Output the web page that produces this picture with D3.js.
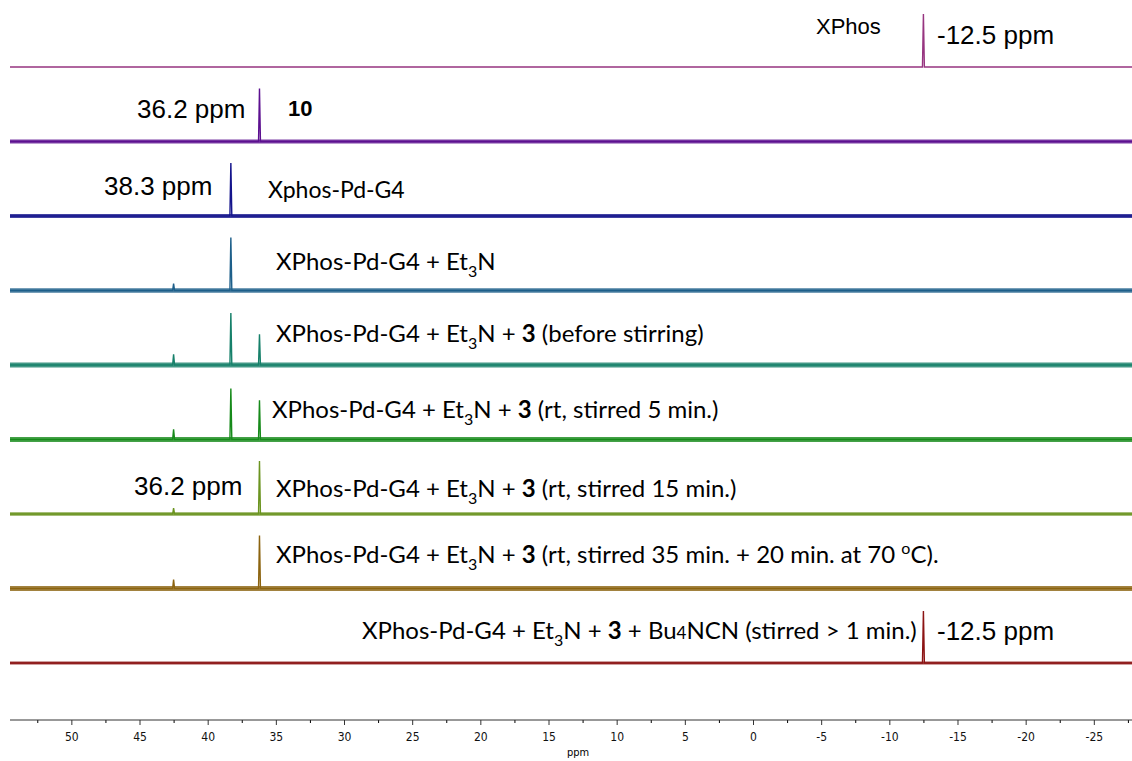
<!DOCTYPE html>
<html>
<head>
<meta charset="utf-8">
<script src="https://cdn.jsdelivr.net/npm/d3@7"></script>
<style>
  body { margin: 0; background: #fff; }
  .lbl { font-family: "Liberation Sans", Arial, sans-serif; font-size: 26px; fill: #000; }
  .cal { font-family: Lato, "Open Sans", sans-serif; font-size: 24px; fill: #000; }
  .axis text { font-family: "DejaVu Sans Condensed", "DejaVu Sans", sans-serif; font-size: 12px; }
</style>
</head>
<body>
<div id="chart"></div>
<script>
// spectra, top to bottom
const spectra = ['xphos', 'p10', 'g4', 'et3n', 'before', 'rt5', 'rt15', 'rt35', 'bu4ncn'];
const colors = ['#973580', '#5c1090', '#14148c', '#1d5f8a', '#16806a', '#168a1a', '#6b9420', '#8c6410', '#8c1414'];
// apparent noise band thickness (px), 0 = clean trace
const noiseBand = [0, 4, 4, 4.5, 5, 5, 3.5, 5, 3];

// peaks per spectrum: [ppm, relative intensity]
const peaks = [
  [[-12.5, 1.0]],
  [[36.2, 1.0]],
  [[38.3, 1.0]],
  [[38.3, 1.0], [42.5, 0.13]],
  [[38.3, 0.98], [36.2, 0.58], [42.5, 0.2]],
  [[38.3, 0.96], [36.2, 0.74], [42.5, 0.19]],
  [[36.2, 1.0], [42.5, 0.11]],
  [[36.2, 1.0], [42.5, 0.17]],
  [[-12.5, 0.98]]
];

const ppmDomain = [54.5, -27.8];
const majorTicks = [50, 45, 40, 35, 30, 25, 20, 15, 10, 5, 0, -5, -10, -15, -20, -25];
const minorTicks = [52.5, 47.5, 42.5, 37.5, 32.5, 27.5, 22.5, 17.5, 12.5, 7.5, 2.5, -2.5, -7.5, -12.5, -17.5, -22.5, -27.5];

const width = 1132, height = 761;
const svg = d3.select('#chart').append('svg').attr('width', width).attr('height', height);

const x = d3.scaleLinear().domain(ppmDomain).range([10, 1132]);
const row = d3.scalePoint().domain(spectra).range([67, 663]);
const peakH = 53;

// build a trace: flat baseline with narrow peaks
function trace(pk){
  const w = 0.07;
  let pts = [[ppmDomain[0], 0]];
  pk.slice().sort((a, b) => b[0] - a[0]).forEach(p => {
    pts.push([p[0] + w, 0], [p[0], p[1]], [p[0] - w, 0]);
  });
  pts.push([ppmDomain[1], 0]);
  return pts;
}

const g = svg.append('g').attr('class', 'spectra');
spectra.forEach((s, i) => {
  const y0 = row(s);
  const line = d3.line()
    .x(d => x(d[0]))
    .y(d => y0 - d[1] * peakH);
  // noise band under noisy spectra
  if(noiseBand[i] > 0){
    g.append('line')
      .attr('x1', x(ppmDomain[0])).attr('x2', x(ppmDomain[1]))
      .attr('y1', y0).attr('y2', y0)
      .attr('stroke', colors[i]).attr('stroke-width', noiseBand[i]).attr('opacity', 0.8);
  }
  g.append('path')
    .attr('d', line(trace(peaks[i])))
    .attr('fill', 'none')
    .attr('stroke', colors[i])
    .attr('stroke-width', 1.4);
});

// labels
const labels = [
  {t: 'XPhos', x: 816, y: 34, fs: 22},
  {t: '-12.5 ppm', x: 937, y: 44},
  {t: '36.2 ppm', x: 137, y: 118},
  {t: '38.3 ppm', x: 104, y: 195},
  {t: '36.2 ppm', x: 134, y: 495},
  {t: '-12.5 ppm', x: 937, y: 640}
];
labels.forEach(l => {
  svg.append('text').attr('class', 'lbl').attr('x', l.x).attr('y', l.y)
    .style('font-size', l.fs ? l.fs + 'px' : null).text(l.t);
});

svg.append('text').attr('class', 'lbl').attr('x', 288).attr('y', 116)
  .style('font-weight', 'bold').style('font-size', '22px').text('10');

// calibri-style sample labels, parts: [text, style]
const sampleLabels = [
  {x: 268, y: 198, fs: 23, parts: [['Xphos-Pd-G4']]},
  {x: 276, y: 270, parts: [['XPhos-Pd-G4 + Et'], ['3', 'sub'], ['N']]},
  {x: 276, y: 342, parts: [['XPhos-Pd-G4 + Et'], ['3', 'sub'], ['N + '], ['3', 'b'], [' (before stirring)']]},
  {x: 272, y: 418, parts: [['XPhos-Pd-G4 + Et'], ['3', 'sub'], ['N + '], ['3', 'b'], [' (rt, stirred 5 min.)']]},
  {x: 276, y: 497, parts: [['XPhos-Pd-G4 + Et'], ['3', 'sub'], ['N + '], ['3', 'b'], [' (rt, stirred 15 min.)']]},
  {x: 276, y: 563, parts: [['XPhos-Pd-G4 + Et'], ['3', 'sub'], ['N + '], ['3', 'b'], [' (rt, stirred 35 min. + 20 min. at 70 '], ['o', 'sup'], ['C).']]},
  {x: 362, y: 639, parts: [['XPhos-Pd-G4 + Et'], ['3', 'sub'], ['N + '], ['3', 'b'], [' + Bu'], ['4', 'small'], ['NCN (stirred > 1 min.)']]}
];
sampleLabels.forEach(l => {
  const t = svg.append('text').attr('class', 'cal').attr('x', l.x).attr('y', l.y)
    .style('font-size', l.fs ? l.fs + 'px' : null)
    .attr('xml:space', 'preserve').style('white-space', 'pre');
  let shift = 0;
  l.parts.forEach(p => {
    const sp = t.append('tspan').text(p[0]);
    let dy = 0;
    if(p[1] == 'sub') dy = 7;
    else if(p[1] == 'sup') dy = -9;
    // move to new offset, relative to previous tspan
    if(dy - shift != 0) sp.attr('dy', dy - shift);
    shift = dy;
    if(p[1] == 'sub' || p[1] == 'sup') sp.style('font-size', '16px');
    else if(p[1] == 'small') sp.style('font-size', '17px');
    else if(p[1] == 'b') sp.style('font-weight', 'bold');
  });
});

// axis
const axisY = 720;
const ax = svg.append('g').attr('class', 'axis').attr('transform', `translate(0,${axisY})`);
ax.call(d3.axisBottom(x).tickValues(minorTicks).tickSize(3).tickFormat(''));
ax.select('.domain').remove();
const ax2 = svg.append('g').attr('class', 'axis').attr('transform', `translate(0,${axisY})`);
ax2.call(d3.axisBottom(x).tickValues(majorTicks).tickSize(5).tickPadding(7).tickFormat(d => String(d)));
ax2.select('.domain').attr('d', `M${x(ppmDomain[0])},0H${x(ppmDomain[1])}`).attr('stroke', '#333');
ax2.selectAll('.tick line').attr('stroke', '#333');
ax2.selectAll('.tick text').attr('fill', '#111');

svg.append('text')
  .attr('x', 578)
  .attr('y', 756)
  .attr('text-anchor', 'middle')
  .style('font-family', '"DejaVu Sans Condensed", sans-serif')
  .style('font-size', '11px')
  .text('ppm');
</script>
</body>
</html>
